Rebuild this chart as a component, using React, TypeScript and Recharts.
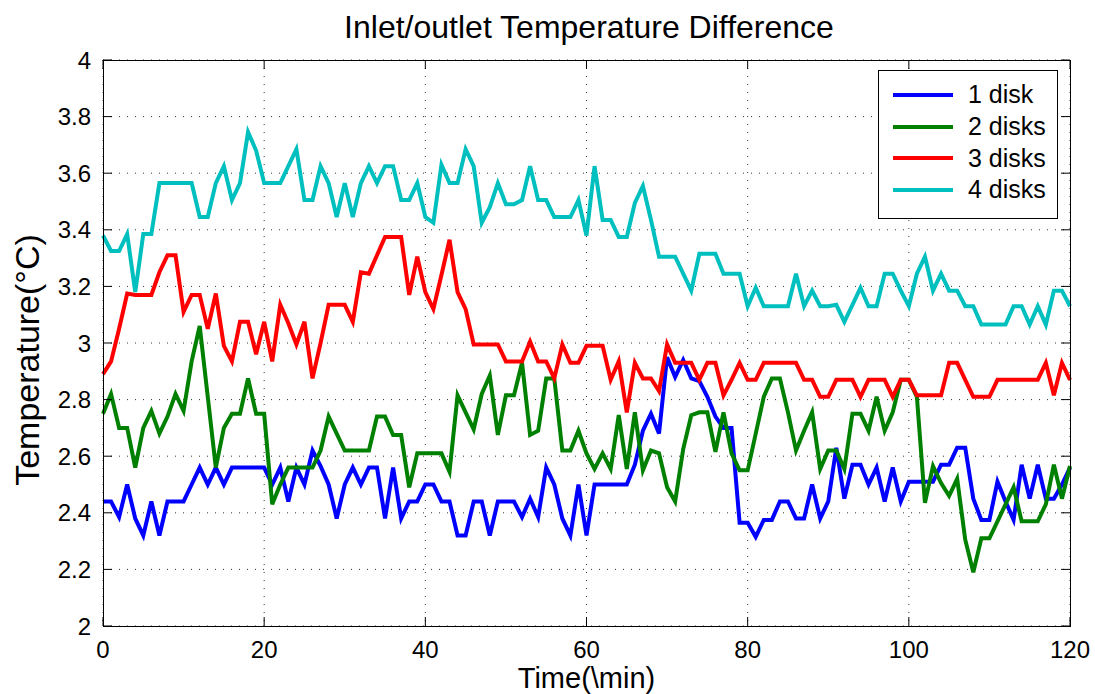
import { LineChart, Line, XAxis, YAxis, CartesianGrid } from 'recharts';

// plot box in page pixels (MATLAB-style axes)
const PLOT = { left: 103, top: 60, right: 1070, bottom: 626 };
const FONT = '"Liberation Sans", Arial, Helvetica, sans-serif';

const xTicks = [0, 20, 40, 60, 80, 100, 120];
const yTicks = [2, 2.2, 2.4, 2.6, 2.8, 3, 3.2, 3.4, 3.6, 3.8, 4];

const seriesNames = ['1 disk', '2 disks', '3 disks', '4 disks'];
const seriesColors = ['#0000ff', '#008000', '#ff0000', '#00bfbf'];

// one sample per minute, 0..120
const disk1 = [
  2.44, 2.44, 2.385, 2.5, 2.38, 2.32, 2.44, 2.32, 2.44, 2.44, 2.44, 2.5, 2.56, 2.5, 2.56, 2.5, 2.56, 2.56, 2.56, 2.56, 2.56,
  2.5, 2.56, 2.44, 2.56, 2.5, 2.62, 2.565, 2.5, 2.38, 2.5, 2.56, 2.5, 2.56, 2.56, 2.38, 2.56, 2.38, 2.44, 2.44, 2.5,
  2.5, 2.44, 2.44, 2.32, 2.32, 2.44, 2.44, 2.32, 2.44, 2.44, 2.44, 2.385, 2.45, 2.385, 2.56, 2.5, 2.38, 2.32, 2.5, 2.32,
  2.5, 2.5, 2.5, 2.5, 2.5, 2.57, 2.69, 2.75, 2.68, 2.95, 2.88, 2.94, 2.875, 2.865, 2.81, 2.74, 2.7, 2.7, 2.365, 2.365,
  2.315, 2.375, 2.375, 2.44, 2.44, 2.38, 2.38, 2.5, 2.38, 2.44, 2.63, 2.45, 2.57, 2.57, 2.5, 2.56, 2.44, 2.56, 2.44, 2.51,
  2.51, 2.51, 2.51, 2.57, 2.57, 2.63, 2.63, 2.45, 2.375, 2.375, 2.51, 2.44, 2.375, 2.57, 2.45, 2.57, 2.45, 2.45, 2.5, 2.56,
];
const disk2 = [
  2.75, 2.82, 2.7, 2.7, 2.56, 2.7, 2.76, 2.68, 2.74, 2.82, 2.76, 2.935, 3.06, 2.81, 2.56, 2.7, 2.75, 2.75, 2.875, 2.75, 2.75,
  2.43, 2.5, 2.56, 2.56, 2.56, 2.56, 2.62, 2.74, 2.68, 2.62, 2.62, 2.62, 2.62, 2.74, 2.74, 2.675, 2.675, 2.49, 2.61, 2.61,
  2.61, 2.61, 2.545, 2.815, 2.755, 2.695, 2.82, 2.885, 2.675, 2.815, 2.815, 2.93, 2.675, 2.69, 2.875, 2.875, 2.62, 2.62, 2.69, 2.61,
  2.555, 2.61, 2.555, 2.745, 2.555, 2.755, 2.55, 2.62, 2.61, 2.49, 2.44, 2.625, 2.745, 2.755, 2.755, 2.615, 2.755, 2.61, 2.55, 2.55,
  2.68, 2.81, 2.875, 2.875, 2.755, 2.62, 2.69, 2.755, 2.555, 2.62, 2.62, 2.555, 2.75, 2.75, 2.69, 2.81, 2.69, 2.755, 2.87, 2.87,
  2.81, 2.435, 2.565, 2.505, 2.46, 2.52, 2.305, 2.19, 2.31, 2.31, 2.37, 2.43, 2.49, 2.37, 2.37, 2.37, 2.43, 2.57, 2.45, 2.565,
];
const disk3 = [
  2.89, 2.935, 3.05, 3.175, 3.17, 3.17, 3.17, 3.25, 3.31, 3.31, 3.11, 3.17, 3.17, 3.05, 3.175, 2.99, 2.935, 3.075, 3.075, 2.96, 3.075,
  2.935, 3.135, 3.07, 2.995, 3.075, 2.875, 3.0, 3.135, 3.135, 3.135, 3.075, 3.25, 3.245, 3.31, 3.375, 3.375, 3.375, 3.17, 3.305, 3.18,
  3.12, 3.24, 3.365, 3.18, 3.12, 2.995, 2.995, 2.995, 2.995, 2.935, 2.935, 2.935, 3.005, 2.935, 2.935, 2.875, 2.995, 2.93, 2.93, 2.99,
  2.99, 2.99, 2.87, 2.935, 2.755, 2.93, 2.875, 2.875, 2.83, 2.995, 2.93, 2.93, 2.93, 2.87, 2.93, 2.93, 2.815, 2.87, 2.93, 2.87,
  2.87, 2.93, 2.93, 2.93, 2.93, 2.93, 2.87, 2.87, 2.81, 2.81, 2.87, 2.87, 2.87, 2.81, 2.87, 2.87, 2.87, 2.81, 2.87, 2.87,
  2.815, 2.815, 2.815, 2.815, 2.93, 2.93, 2.87, 2.81, 2.81, 2.81, 2.87, 2.87, 2.87, 2.87, 2.87, 2.87, 2.93, 2.815, 2.93, 2.87,
];
const disk4 = [
  3.38, 3.325, 3.325, 3.385, 3.18, 3.385, 3.385, 3.565, 3.565, 3.565, 3.565, 3.565, 3.445, 3.445, 3.565, 3.625, 3.505, 3.565, 3.745, 3.68, 3.565,
  3.565, 3.565, 3.625, 3.685, 3.505, 3.505, 3.625, 3.565, 3.445, 3.565, 3.445, 3.565, 3.625, 3.565, 3.625, 3.625, 3.505, 3.505, 3.565, 3.445,
  3.425, 3.63, 3.565, 3.565, 3.685, 3.625, 3.425, 3.48, 3.565, 3.49, 3.49, 3.505, 3.625, 3.505, 3.505, 3.445, 3.445, 3.445, 3.505, 3.38,
  3.625, 3.435, 3.435, 3.375, 3.375, 3.495, 3.555, 3.435, 3.305, 3.305, 3.305, 3.245, 3.185, 3.315, 3.315, 3.315, 3.245, 3.245, 3.245, 3.13,
  3.195, 3.13, 3.13, 3.13, 3.13, 3.245, 3.13, 3.185, 3.13, 3.13, 3.135, 3.075, 3.135, 3.195, 3.13, 3.13, 3.245, 3.245, 3.185, 3.13,
  3.245, 3.305, 3.185, 3.245, 3.185, 3.185, 3.13, 3.13, 3.065, 3.065, 3.065, 3.065, 3.13, 3.13, 3.065, 3.13, 3.065, 3.185, 3.185, 3.13,
];

const series = [disk1, disk2, disk3, disk4];
const data = disk1.map((_, i) => ({ time: i, d1: disk1[i], d2: disk2[i], d3: disk3[i], d4: disk4[i] }));

const TICK_LEN = 9;

const XTick = ({ x, payload }: any) => (
  <g>
    <line x1={x} x2={x} y1={PLOT.bottom} y2={PLOT.bottom - TICK_LEN} stroke="#000" />
    <line x1={x} x2={x} y1={PLOT.top} y2={PLOT.top + TICK_LEN} stroke="#000" />
    <text x={x} y={PLOT.bottom + 32} textAnchor="middle" fontSize={24} fontFamily={FONT} fill="#000">
      {payload.value}
    </text>
  </g>
);

const YTick = ({ y, payload }: any) => (
  <g>
    <line x1={PLOT.left} x2={PLOT.left + TICK_LEN} y1={y} y2={y} stroke="#000" />
    <line x1={PLOT.right} x2={PLOT.right - TICK_LEN} y1={y} y2={y} stroke="#000" />
    <text x={PLOT.left - 12} y={y + 8.5} textAnchor="end" fontSize={24} fontFamily={FONT} fill="#000">
      {payload.value}
    </text>
  </g>
);

export default function App() {
  return (
    <div style={{ position: 'absolute', left: 0, top: 0, width: 1095, height: 694, background: '#fff', fontFamily: FONT, overflow: 'hidden' }}>
      <LineChart
        width={1095}
        height={694}
        data={data}
        margin={{ top: PLOT.top, right: 1095 - PLOT.right, bottom: 28, left: PLOT.left - 60 }}
      >
        <CartesianGrid stroke="#333" strokeDasharray="1 7" />
        <XAxis
          dataKey="time"
          type="number"
          domain={[0, 120]}
          ticks={xTicks}
          interval={0}
          height={40}
          axisLine={false}
          tickLine={false}
          tickSize={0}
          tick={<XTick />}
        />
        <YAxis
          type="number"
          domain={[2, 4]}
          ticks={yTicks}
          interval={0}
          width={60}
          axisLine={false}
          tickLine={false}
          tickSize={0}
          tick={<YTick />}
        />
        {series.map((_, k) => (
          <Line
            key={k}
            type="linear"
            dataKey={`d${k + 1}`}
            name={seriesNames[k]}
            stroke={seriesColors[k]}
            strokeWidth={4}
            dot={false}
            isAnimationActive={false}
          />
        ))}
      </LineChart>

      {/* axes box */}
      <div
        style={{
          position: 'absolute',
          left: PLOT.left,
          top: PLOT.top,
          width: PLOT.right - PLOT.left - 1,
          height: PLOT.bottom - PLOT.top - 1,
          border: '1px solid #000',
          pointerEvents: 'none',
        }}
      />

      <div style={{ position: 'absolute', left: 0, width: 1095, top: 11, textAlign: 'center', paddingLeft: 83, boxSizing: 'border-box', fontSize: 32, lineHeight: 1, color: '#000' }}>
        Inlet/outlet Temperature Difference
      </div>
      <div style={{ position: 'absolute', left: PLOT.left, width: PLOT.right - PLOT.left, top: 664, textAlign: 'center', fontSize: 29, lineHeight: 1, color: '#000' }}>
        Time(\min)
      </div>
      <div
        style={{
          position: 'absolute',
          left: 27,
          top: 360,
          transform: 'translate(-50%, -50%) rotate(-90deg)',
          whiteSpace: 'nowrap',
          fontSize: 34,
          lineHeight: 1,
          color: '#000',
        }}
      >
        Temperature(°C)
      </div>

      {/* legend */}
      <div
        style={{
          position: 'absolute',
          left: 878,
          top: 70,
          width: 178,
          height: 139,
          border: '1px solid #000',
          background: '#fff',
          paddingTop: 8,
          boxSizing: 'content-box',
        }}
      >
        {seriesNames.map((name, k) => (
          <div key={name} style={{ display: 'flex', alignItems: 'center', height: 31.7, paddingLeft: 14 }}>
            <div style={{ width: 60, height: 4, background: seriesColors[k], marginRight: 15 }} />
            <span style={{ fontSize: 25, color: '#000', lineHeight: '31px' }}>{name}</span>
          </div>
        ))}
      </div>
    </div>
  );
}
